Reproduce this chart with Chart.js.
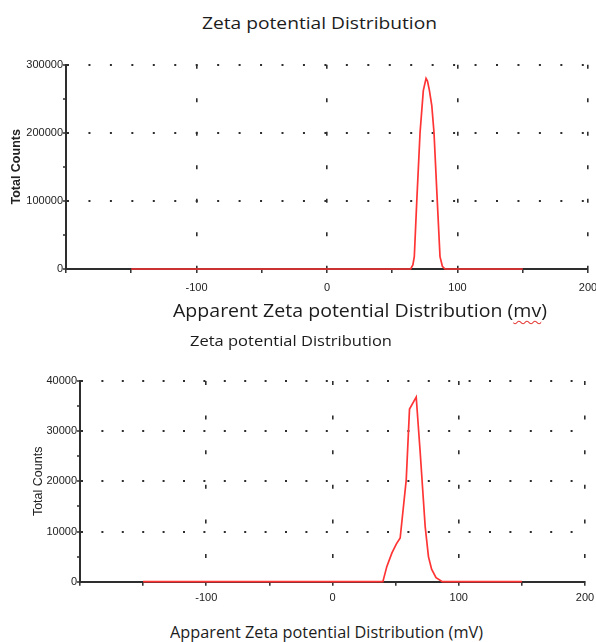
<!DOCTYPE html>
<html>
<head>
<meta charset="utf-8">
<script src="https://cdn.jsdelivr.net/npm/chart.js@4.4.0/dist/chart.umd.min.js"></script>
<style>
  body { margin: 0; background: #fff; width: 596px; height: 642px; position: relative; overflow: hidden; }
  canvas { position: absolute; left: 0; }
  .lbl { position: absolute; white-space: nowrap; line-height: 1; font-family: "Open Sans", sans-serif; color: #1c1c1c; transform-origin: 0 0; }
  .spell { text-decoration: underline wavy #e53935; text-decoration-thickness: 1px; text-underline-offset: 3px; }
</style>
</head>
<body>
<div class="lbl" id="title1">Zeta potential Distribution</div>
<canvas id="chart1" width="596" height="250" style="top:50px"></canvas>
<div class="lbl" id="xlabel1">Apparent Zeta potential Distribution (<span class="spell">mv</span>)</div>
<div class="lbl" id="title2">Zeta potential Distribution</div>
<canvas id="chart2" width="596" height="240" style="top:370px"></canvas>
<div class="lbl" id="xlabel2">Apparent Zeta potential Distribution (mV)</div>
<script>
// values (mV, total counts)
const topVoltage = [-150, 64.1, 65.8, 66.9, 68.8, 71.3, 73.8, 75.9, 77.0, 78.4, 80.3, 82.0, 84.5, 86.6, 88.4, 90.4, 150];
const topCounts  = [0, 0, 6000, 18000, 100000, 200000, 262000, 280000, 276000, 263000, 240000, 200000, 100000, 18000, 4000, 0, 0];

const bottomVoltage = [-150, 39.9, 43.0, 47.0, 50.5, 53.6, 58.4, 61.0, 66.3, 69.4, 73.4, 76.0, 78.5, 82.0, 87.0, 150];
const bottomCounts  = [0, 0, 3000, 5700, 7500, 8700, 20300, 34400, 36800, 26000, 11000, 5000, 2500, 800, 0, 0];

const xTickValues = [-100, 0, 100, 200];
const topYTickValues = [0, 100000, 200000, 300000];
const bottomYTickValues = [0, 10000, 20000, 30000, 40000];

const RED = "#ff3434";
const INK = "#2e2e2e";
const CLEAR = "rgba(0,0,0,0)";
const tickFont = { family: "'Liberation Sans Narrow', 'Arial Narrow', 'Liberation Sans', sans-serif", size: 11 };

function makeChart(canvasId, opts) {
    const ctx = document.getElementById(canvasId).getContext("2d");
    return new Chart(ctx, {
        type: "line",
        data: {
            datasets: [{
                data: opts.voltage.map((v, i) => ({ x: v, y: opts.counts[i] })),
                borderColor: RED,
                borderWidth: 1.7,
                pointRadius: 0,
                tension: 0,
                fill: false,
                clip: false
            }]
        },
        options: {
            responsive: false,
            animation: false,
            devicePixelRatio: 1,
            layout: { padding: { top: opts.padTop, right: opts.padRight, left: 0, bottom: 0 } },
            plugins: { legend: { display: false }, tooltip: { enabled: false } },
            scales: {
                x: {
                    type: "linear",
                    min: -200, max: 200,
                    afterFit: s => { s.height = opts.axisHeight; s.paddingLeft = 0; s.paddingRight = 0; },
                    border: { color: INK, width: 2, dash: opts.xDash },
                    grid: {
                        color: c => (c.tick && c.tick.value % 100 === 0) ? INK : CLEAR,
                        lineWidth: 1.6,
                        tickColor: INK,
                        tickLength: 4,
                        tickWidth: 1.5
                    },
                    ticks: {
                        stepSize: 50,
                        autoSkip: false,
                        maxRotation: 0,
                        padding: opts.xTickPad,
                        color: "#222",
                        font: tickFont,
                        callback: v => xTickValues.includes(v) ? v : ""
                    }
                },
                y: {
                    min: 0, max: opts.yMax,
                    afterFit: s => { s.width = opts.leftWidth; s.paddingTop = 0; s.paddingBottom = 0; },
                    border: { color: INK, width: 2, dash: opts.yDash },
                    grid: {
                        color: c => (c.tick && c.tick.value !== 0 && opts.yTicks.includes(c.tick.value)) ? INK : CLEAR,
                        lineWidth: 2,
                        tickColor: INK,
                        tickLength: 3,
                        tickWidth: 1.5
                    },
                    ticks: {
                        stepSize: opts.yMax / (opts.yTicks.length - 1) / 2,
                        autoSkip: false,
                        padding: 0,
                        color: "#222",
                        font: tickFont,
                        callback: v => opts.yTicks.includes(v) ? v : ""
                    },
                    title: {
                        display: true,
                        text: "Total Counts",
                        color: "#222",
                        font: opts.titleFont,
                        padding: { top: opts.titlePad, bottom: 0 }
                    }
                }
            }
        }
    });
}

makeChart("chart1", {
    voltage: topVoltage, counts: topCounts, yMax: 300000, yTicks: topYTickValues,
    padTop: 14.7, padRight: 8, leftWidth: 66, axisHeight: 31, xTickPad: 8,
    xDash: [4, 29.5], yDash: [2, 19.45],
    titleFont: { family: "'Liberation Sans', Arial, sans-serif", size: 12.5, weight: "bold" }, titlePad: 8.7
});

makeChart("chart2", {
    voltage: bottomVoltage, counts: bottomCounts, yMax: 40000, yTicks: bottomYTickValues,
    padTop: 11, padRight: 11, leftWidth: 80, axisHeight: 28.3, xTickPad: 6,
    xDash: [4, 30.6], yDash: [2, 18.4],
    titleFont: { family: "'Liberation Sans', Arial, sans-serif", size: 12.5 }, titlePad: 30.8
});

// fit the text boxes to where they sit in the picture
function placeLabel(id, left, width, baseline, capHeight) {
    const el = document.getElementById(id);
    const size = capHeight / 0.714;
    el.style.fontSize = size + "px";
    const w = el.getBoundingClientRect().width;
    el.style.transform = "scaleX(" + (width / w) + ")";
    el.style.left = left + "px";
    el.style.top = (baseline - 0.888 * size) + "px";
}
placeLabel("title1", 202, 235, 30, 11.7);
placeLabel("xlabel1", 173, 374, 317, 12.3);
placeLabel("title2", 190, 202, 346, 10.5);
placeLabel("xlabel2", 170, 313, 639, 11);
</script>
</body>
</html>
